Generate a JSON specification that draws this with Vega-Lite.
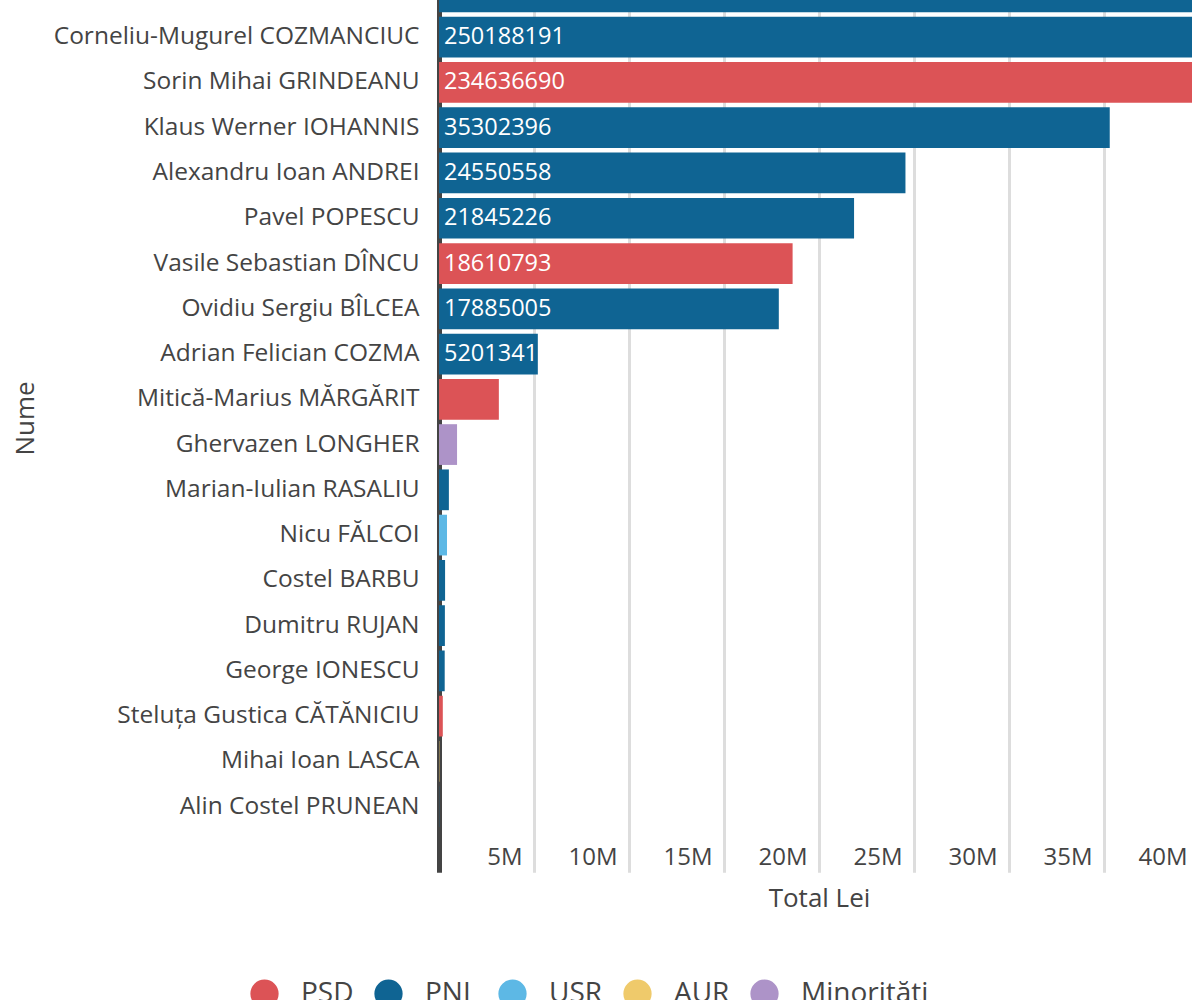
{
  "$schema": "https://vega.github.io/schema/vega-lite/v6.json",
  "autosize": {"type": "none"},
  "padding": {"left": 439, "top": -73.7, "right": -7, "bottom": 128},
  "width": 760,
  "height": 946,
  "data": {
    "values": [
      {"Nume": "Sorin Dan MOLDOVAN", "Partid": "PNL", "Total": 280000000},
      {"Nume": "Corneliu-Mugurel COZMANCIUC", "Partid": "PNL", "Total": 250188191},
      {"Nume": "Sorin Mihai GRINDEANU", "Partid": "PSD", "Total": 234636690},
      {"Nume": "Klaus Werner IOHANNIS", "Partid": "PNL", "Total": 35302396},
      {"Nume": "Alexandru Ioan ANDREI", "Partid": "PNL", "Total": 24550558},
      {"Nume": "Pavel POPESCU", "Partid": "PNL", "Total": 21845226},
      {"Nume": "Vasile Sebastian DÎNCU", "Partid": "PSD", "Total": 18610793},
      {"Nume": "Ovidiu Sergiu BÎLCEA", "Partid": "PNL", "Total": 17885005},
      {"Nume": "Adrian Felician COZMA", "Partid": "PNL", "Total": 5201341},
      {"Nume": "Mitică-Marius MĂRGĂRIT", "Partid": "PSD", "Total": 3150000},
      {"Nume": "Ghervazen LONGHER", "Partid": "Minorități", "Total": 950000},
      {"Nume": "Marian-Iulian RASALIU", "Partid": "PNL", "Total": 520000},
      {"Nume": "Nicu FĂLCOI", "Partid": "USR", "Total": 420000},
      {"Nume": "Costel BARBU", "Partid": "PNL", "Total": 320000},
      {"Nume": "Dumitru RUJAN", "Partid": "PNL", "Total": 310000},
      {"Nume": "George IONESCU", "Partid": "PNL", "Total": 300000},
      {"Nume": "Steluța Gustica CĂTĂNICIU", "Partid": "PSD", "Total": 200000},
      {"Nume": "Mihai Ioan LASCA", "Partid": "AUR", "Total": 20000},
      {"Nume": "Alin Costel PRUNEAN", "Partid": "PNL", "Total": 10000}
    ]
  },
  "encoding": {
    "y": {
      "field": "Nume",
      "type": "nominal",
      "sort": {"field": "Total", "order": "descending"},
      "scale": {"paddingInner": 0.1, "paddingOuter": 1},
      "axis": {
        "title": "Nume",
        "domainColor": "#444444",
        "domainWidth": 5,
        "ticks": false,
        "labelPadding": 20,
        "labelFontSize": 24.5,
        "titleX": -406,
        "titleY": 491.7,
        "titleAlign": "center",
        "titleBaseline": "alphabetic",
        "titleAngle": -90,
        "grid": false
      }
    }
  },
  "layer": [
    {
      "mark": {"type": "bar", "clip": true},
      "encoding": {
        "x": {
          "field": "Total",
          "type": "quantitative",
          "scale": {"domain": [0, 40000000]},
          "axis": {
            "title": "Total Lei",
            "values": [5000000, 10000000, 15000000, 20000000, 25000000, 30000000, 35000000, 40000000],
            "format": "~s",
            "domain": false,
            "ticks": false,
            "grid": true,
            "gridColor": "#dddddd",
            "gridWidth": 3,
            "labelFontSize": 24,
            "labelAlign": "right",
            "labelBaseline": "alphabetic",
            "labelPadding": -8,
            "labelOffset": -12,
            "titlePadding": 13
          }
        },
        "color": {
          "field": "Partid",
          "type": "nominal",
          "scale": {
            "domain": ["PSD", "PNL", "USR", "AUR", "Minorități"],
            "range": ["#dc5356", "#0f6493", "#5db8e5", "#efca6b", "#ad93c8"]
          },
          "legend": {
            "title": null,
            "orient": "none",
            "legendX": -189,
            "legendY": 1052.7,
            "padding": 0,
            "direction": "horizontal",
            "symbolType": "circle",
            "symbolSize": 800,
            "symbolStrokeWidth": 0,
            "labelFontSize": 28,
            "labelColor": "#444444",
            "labelOffset": 22,
            "columnPadding": 20
          }
        }
      }
    },
    {
      "mark": {"type": "text", "align": "left", "baseline": "middle", "dx": 5, "color": "white", "fontSize": 23.5},
      "encoding": {
        "x": {"datum": 0, "type": "quantitative"},
        "text": {
          "condition": {"test": "datum.Total >= 5000000", "field": "Total", "type": "quantitative", "format": "d"},
          "value": ""
        }
      }
    }
  ],
  "config": {
    "font": "Open Sans",
    "view": {"stroke": null},
    "axis": {
      "labelFontSize": 26,
      "titleFontSize": 26,
      "labelColor": "#444444",
      "titleColor": "#444444",
      "titleFontWeight": "normal",
      "labelLimit": 500
    },
    "text": {"font": "Open Sans"}
  }
}
